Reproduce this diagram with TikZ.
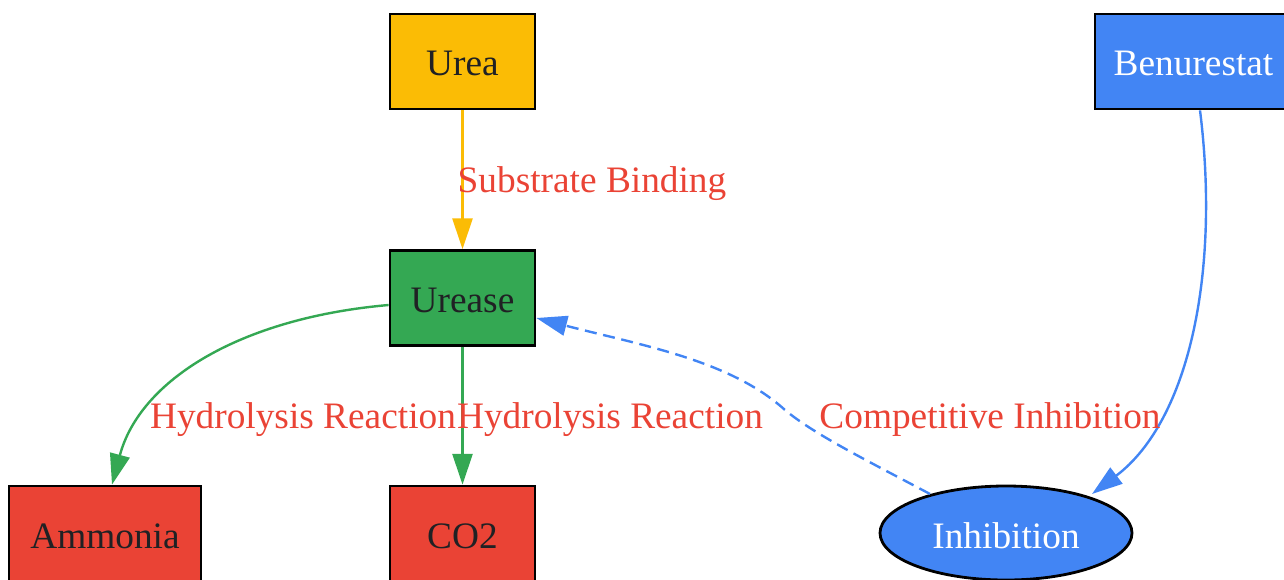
\documentclass[tikz,border=0pt]{standalone}
\usepackage{fontspec}
\setmainfont{Liberation Serif}
\usetikzlibrary{arrows.meta,shapes.geometric}
\definecolor{gyellow}{HTML}{FBBC05}
\definecolor{gblue}{HTML}{4285F4}
\definecolor{ggreen}{HTML}{34A853}
\definecolor{gred}{HTML}{EA4335}
\definecolor{gdark}{HTML}{202124}
\newcommand{\lowtxt}[1]{\raisebox{-1.8pt}[\height][\depth]{#1}}
\tikzset{
  box/.style={draw=black, line width=2.1pt, rectangle, minimum width=108.75pt, minimum height=71.25pt, font=\fontsize{28}{32}\selectfont, text=gdark, inner sep=0pt},
  oval/.style={draw=black, line width=2.1pt, ellipse, minimum width=189pt, minimum height=70.5pt, font=\fontsize{28}{32}\selectfont, text=white, inner sep=0pt},
  edge/.style={line width=1.8pt, -{Triangle[length=23pt,width=15pt]}},
  elabel/.style={font=\fontsize{28}{32}\selectfont, text=gred, inner sep=0pt}
}
\begin{document}
\begin{tikzpicture}[x=0.75pt,y=-0.75pt]
\useasboundingbox (0,0) rectangle (1284,579);
\clip (0,0) rectangle (1284,579);
\node[box, fill=gyellow] (urea) at (462.5,61.5) {\lowtxt{Urea}};
\node[box, fill=gblue, text=white, minimum width=147.75pt] (benu) at (1193.5,61.5) {\lowtxt{Benurestat}};
\node[box, fill=ggreen] (urease) at (462.5,298) {\lowtxt{Urease}};
\node[box, fill=gred, minimum width=144pt] (ammonia) at (105,533.5) {\lowtxt{Ammonia}};
\node[box, fill=gred] (co2) at (462.5,533.5) {\lowtxt{CO2}};
\node[oval, fill=gblue] (inh) at (1006,533) {\lowtxt{Inhibition}};

\draw[edge, gyellow] (urea) -- (urease);
\draw[edge, ggreen] (urease.west |- 0,305) .. controls (240,318) and (140,380) .. (ammonia.north -| 112,0);
\draw[edge, ggreen] (urease) -- (co2);
\coordinate (mid) at (785,410);
\coordinate (istart) at (930,494);
\coordinate (iend) at (1092,494);
\draw[edge, gblue, dash pattern=on 9pt off 5pt] (istart) .. controls (870,462) and (815,435) .. (mid) .. controls (730,360) and (640,345) .. (urease.east |- 0,318);
\draw[edge, gblue] (benu.south -| 1200,0) .. controls (1220,270) and (1190,420) .. (iend);

\node[elabel] (l1) at (592,184) {Substrate Binding};
\node[elabel] (l2) at (303,420) {Hydrolysis Reaction};
\node[elabel] (l3) at (610,420) {Hydrolysis Reaction};
\node[elabel] (l4) at (990,420) {Competitive Inhibition};
\end{tikzpicture}
\end{document}
